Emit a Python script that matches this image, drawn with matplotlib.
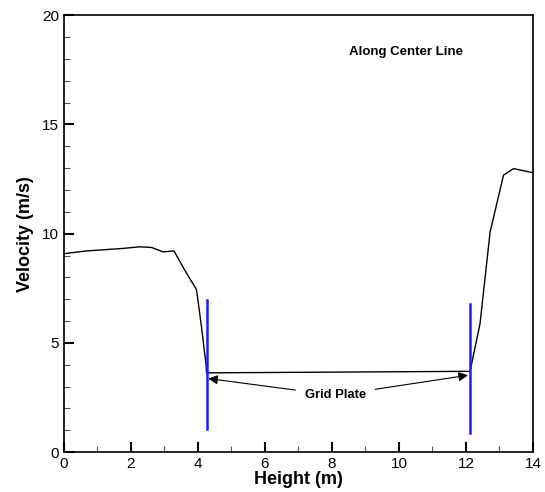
import matplotlib
matplotlib.use('Agg')
import matplotlib.pyplot as plt
from matplotlib.ticker import MultipleLocator

# velocity profile along the center line
height = [0.0, 0.08, 0.67, 1.72, 2.27, 2.62, 2.96, 3.29, 3.61, 3.96, 4.11, 4.24, 4.26,
          12.12, 12.14, 12.42, 12.72, 13.12, 13.42, 14.0]
velocity = [9.08, 9.1, 9.21, 9.32, 9.4, 9.37, 9.17, 9.21, 8.33, 7.44, 5.73, 4.06, 3.63,
            3.7, 3.83, 5.89, 10.08, 12.68, 12.98, 12.79]

# grid plate positions (x, y bottom, y top)
plate_x = [4.26, 12.12]
plate_ymin = [1.08, 0.88]
plate_ymax = [6.96, 6.77]

# arrow tips pointing at the plates
tip_x = [4.31, 12.06]
tip_y = [3.37, 3.52]

plt.rcParams['font.family'] = ['Liberation Sans', 'DejaVu Sans']

fig = plt.figure(figsize=(5.45, 4.92), dpi=100)
ax = fig.add_axes([0.117, 0.081, 0.861, 0.888])

ax.plot(height, velocity, color='black', lw=1.0)
for x, y0, y1 in zip(plate_x, plate_ymin, plate_ymax):
    ax.plot([x, x], [y0, y1], color='#1a1aff', lw=1.8)

label_x, label_y = 8.1, 2.6
ax.text(label_x, label_y, 'Grid Plate', ha='center', va='center', fontsize=9.4,
        fontweight='bold')
for tx, ty in zip(tip_x, tip_y):
    ax.annotate('', xy=(tx, ty), xytext=(label_x, label_y),
                arrowprops=dict(arrowstyle='-|>', color='black', lw=0.8, shrinkA=29,
                                shrinkB=0, mutation_scale=14))

ax.text(10.2, 18.3, 'Along Center Line', ha='center', va='center', fontsize=9.5,
        fontweight='bold')

ax.set_xlim(0, 14)
ax.set_ylim(0, 20)
ax.xaxis.set_major_locator(MultipleLocator(2))
ax.xaxis.set_minor_locator(MultipleLocator(1))
ax.yaxis.set_major_locator(MultipleLocator(5))
ax.yaxis.set_minor_locator(MultipleLocator(1))
ax.tick_params(which='major', direction='in', length=7, width=1.5, labelsize=11)
ax.tick_params(which='minor', direction='in', length=4, width=0.8, color='#555555')
for s in ax.spines.values():
    s.set_linewidth(1.2)

ax.set_xlabel('Height (m)', fontsize=13, fontweight='bold', labelpad=0)
ax.set_ylabel('Velocity (m/s)', fontsize=13, fontweight='bold', labelpad=6)

plt.savefig('out.png', dpi=100)
